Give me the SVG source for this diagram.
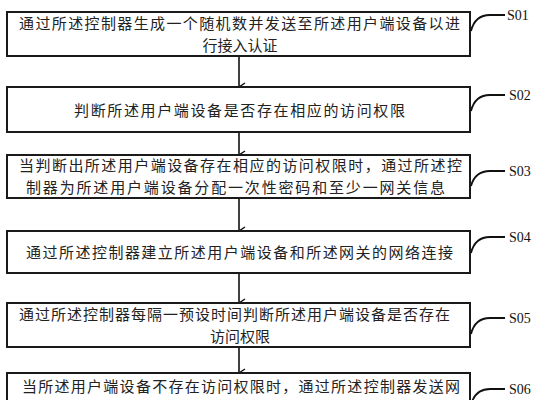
<svg xmlns="http://www.w3.org/2000/svg" width="540" height="400" viewBox="0 0 540 400">
<style>
.box{fill:#fff;stroke:#1a1a1a;stroke-width:2}
.t{font-family:"Noto Sans CJK SC","Noto Sans CJK JP",sans-serif;font-size:15px;fill:#222}
.c{text-anchor:middle}
.lbl{font-family:"Liberation Serif",serif;font-size:14px;fill:#111}
.tick{fill:none;stroke:#111;stroke-width:1.8}
.arr{stroke:#111;stroke-width:1.6;fill:none;marker-end:url(#ah)}
</style>
<defs>
<marker id="ah" markerWidth="10" markerHeight="10" refX="5" refY="8" orient="auto" markerUnits="userSpaceOnUse" viewBox="0 0 10 10">
<path d="M1,2 L5,8 L9,2" fill="none" stroke="#111" stroke-width="1.5"/>
</marker>
</defs>
<rect width="540" height="400" fill="#fff"/>
<g id="connectors">
<line class="arr" x1="239" y1="56" x2="239" y2="87"/>
<line class="arr" x1="239" y1="132" x2="239" y2="155"/>
<line class="arr" x1="239" y1="198" x2="239" y2="231"/>
<line class="arr" x1="239" y1="273" x2="239" y2="303"/>
<line class="arr" x1="239" y1="347" x2="239" y2="373"/>
</g>
<g id="S01">
<rect class="box" x="7" y="12" width="463" height="44"/>
<text class="t" x="19" y="29" textLength="441" lengthAdjust="spacing">通过所述控制器生成一个随机数并发送至所述用户端设备以进</text>
<text class="t c" x="240" y="51">行接入认证</text>
<path class="tick" d="M471,31 C474,19 482,15 490,15 L505,15"/>
<text class="lbl" x="507" y="20">S01</text>
</g>
<g id="S02">
<rect class="box" x="7" y="87" width="463" height="45"/>
<text class="t" x="74" y="116" textLength="331" lengthAdjust="spacing">判断所述用户端设备是否存在相应的访问权限</text>
<path class="tick" d="M471,111 C474,99 482,95 490,95 L505,95"/>
<text class="lbl" x="509" y="100">S02</text>
</g>
<g id="S03">
<rect class="box" x="7" y="155" width="463" height="43"/>
<text class="t" x="19" y="171" textLength="443" lengthAdjust="spacing">当判断出所述用户端设备存在相应的访问权限时，通过所述控</text>
<text class="t" x="26" y="193" textLength="419" lengthAdjust="spacing">制器为所述用户端设备分配一次性密码和至少一网关信息</text>
<path class="tick" d="M471,186 C474,175 482,171 490,171 L505,171"/>
<text class="lbl" x="509" y="176">S03</text>
</g>
<g id="S04">
<rect class="box" x="7" y="231" width="463" height="42"/>
<text class="t" x="26" y="258" textLength="427" lengthAdjust="spacing">通过所述控制器建立所述用户端设备和所述网关的网络连接</text>
<path class="tick" d="M471,253 C474,241 482,237 490,237 L505,237"/>
<text class="lbl" x="509" y="242">S04</text>
</g>
<g id="S05">
<rect class="box" x="7" y="303" width="463" height="44"/>
<text class="t" x="19" y="320" textLength="431" lengthAdjust="spacing">通过所述控制器每隔一预设时间判断所述用户端设备是否存在</text>
<text class="t c" x="240" y="342">访问权限</text>
<path class="tick" d="M471,334 C474,322 482,318 490,318 L505,318"/>
<text class="lbl" x="509" y="323">S05</text>
</g>
<g id="S06">
<rect class="box" x="7" y="373" width="463" height="40"/>
<text class="t" x="22" y="392" textLength="438" lengthAdjust="spacing">当所述用户端设备不存在访问权限时，通过所述控制器发送网</text>
<path class="tick" d="M471,405 C474,393 482,389 490,389 L505,389"/>
<text class="lbl" x="509" y="394">S06</text>
</g>
</svg>
